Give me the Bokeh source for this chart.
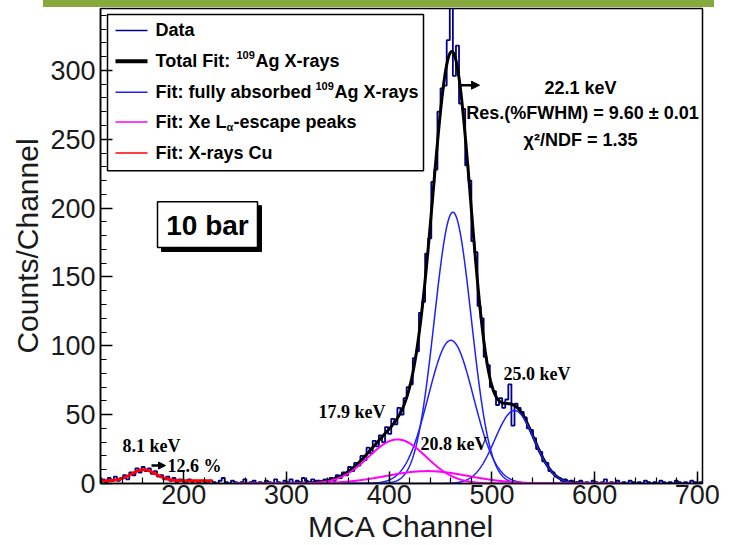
import numpy as np
from bokeh.plotting import figure
from bokeh.models import SingleIntervalTicker, Arrow, NormalHead, Div, Range1d
from bokeh.layouts import column
from bokeh.core.properties import value
from bokeh.embed import file_html
from bokeh.resources import INLINE

# ---------------- data ----------------
channel_start = 120
bin_width = 3
counts = [
    # 120 - 230 (Cu region)
    3, 1, 4, 2, 5, 2, 4, 6, 3, 8, 6, 11, 8, 12, 9, 11, 7, 9, 5, 6,
    3, 5, 2, 4, 1, 3, 2, 0, 3, 1, 2, 0, 2, 1, 0, 2, 1,
    # 231 - 330
    0, 2, 4, 1, 0, 2, 1, 0, 1, 3, 0, 1, 2, 0, 1, 0, 2, 1, 0, 3,
    1, 0, 2, 1, 3, 0, 2, 1, 4, 2, 1, 3, 2,
    # 330 - 579 (escape + Ag peaks)
    2, 0, 3, 1, 4, 2, 6, 4, 8, 6,
    12, 9, 15, 13, 20, 17, 26, 22, 31, 27,
    35, 30, 41, 36, 47, 43, 55, 50, 62, 70,
    72, 91, 96, 124, 132, 167, 178, 219, 228, 270,
    287, 289, 322, 348, 296, 318, 276, 272, 231, 220,
    176, 168, 129, 120, 92, 86, 70, 67, 57, 62,
    55, 61, 72, 42, 58, 55, 52, 48, 40, 39,
    33, 25, 23, 16, 15, 9, 8, 5, 4, 2,
    3, 1, 2,
    # 579 - 705
    0, 1, 2, 0, 1, 0, 2, 1, 0, 1, 3, 0, 1, 0, 2, 0, 1, 0, 2, 1,
    0, 1, 0, 2, 1, 0, 1, 0, 2, 1, 0, 1, 0, 2, 1, 0, 1, 0, 2, 1,
    0, 1,
]

x_range_ch = [119, 705]
y_range_counts = [0, 345]

# fitted components (amplitude, mean channel, sigma in channels)
ag_amp = [197, 104, 53]
ag_mean = [462, 460, 522]
ag_sigma = [18, 22, 19]
esc_amp = [32, 9]
esc_mean = [408, 437]
esc_sigma = [28, 40]
cu_amp = [8]
cu_mean = [161]
cu_sigma = [12]
cu_bkg = [2]
fit_range = [250, 625]
cu_range = [120, 228]

legend_labels = ["Data", "Total Fit:", "Fit: fully absorbed", "Fit: Xe L", "Fit: X-rays Cu"]
peak_labels = ["8.1 keV", "17.9 keV", "20.8 keV", "25.0 keV"]
res_texts = ["22.1 keV", "Res.(%FWHM) = 9.60 \u00b1 0.01", "\u03c7\u00b2/NDF = 1.35"]

# ---------------- helpers ----------------
FL, FR, FT, FB = 100, 702, 8, 485   # frame in page pixels (reference)


def dx(px):
    return x_range_ch[0] + (px - FL) * (x_range_ch[1] - x_range_ch[0]) / (FR - FL)


def dy(py):
    return y_range_counts[0] + (FB - py) * (y_range_counts[1] - y_range_counts[0]) / (FB - FT)


def gauss(x, a, m, s):
    return a * np.exp(-0.5 * ((x - m) / s) ** 2)


p = figure(width=731, height=538,
           x_range=Range1d(*x_range_ch), y_range=Range1d(*y_range_counts),
           output_backend="svg", toolbar_location=None,
           min_border_left=100, min_border_right=29, min_border_top=1, min_border_bottom=60)
p.margin = 0
p.xgrid.visible = False
p.ygrid.visible = False
p.outline_line_color = "black"
p.outline_line_width = 1.5
p.background_fill_color = "white"

# data histogram
edges = channel_start + bin_width * np.arange(len(counts) + 1)
p.step(edges, list(counts) + [counts[-1]], mode="after", line_color="#000088", line_width=1.8)

# fits
xs = np.linspace(fit_range[0], fit_range[1], 900)
ag_curves = [gauss(xs, a, m, s) for a, m, s in zip(ag_amp, ag_mean, ag_sigma)]
esc_curves = [gauss(xs, a, m, s) for a, m, s in zip(esc_amp, esc_mean, esc_sigma)]
total = sum(ag_curves) + sum(esc_curves)
p.line(xs, total, line_color="black", line_width=3)
for c in ag_curves:
    p.line(xs, c, line_color="#1f1fff", line_width=1.5)
for c in esc_curves:
    p.line(xs, c, line_color="#ff00ff", line_width=2)
xc = np.linspace(cu_range[0], cu_range[1], 300)
p.line(xc, cu_bkg[0] + gauss(xc, cu_amp[0], cu_mean[0], cu_sigma[0]), line_color="#ff0000", line_width=3)

# axes
for ax in (p.xaxis, p.yaxis):
    ax.axis_line_color = "black"
    ax.axis_line_width = 1.5
    ax.major_tick_in = 12
    ax.major_tick_out = 0
    ax.minor_tick_in = 6
    ax.minor_tick_out = 0
    ax.major_tick_line_color = "black"
    ax.minor_tick_line_color = "black"
    ax.major_tick_line_width = 1.5
    ax.minor_tick_line_width = 1.2
    ax.major_label_text_font = "Liberation Sans"
    ax.major_label_text_font_size = "27px"
    ax.major_label_text_color = "#1a1a1a"
    ax.axis_label_text_font = "Liberation Sans"
    ax.axis_label_text_font_size = "30px"
    ax.axis_label_text_font_style = "normal"
    ax.axis_label_text_color = "#1a1a1a"
p.xaxis.ticker = SingleIntervalTicker(interval=100, num_minor_ticks=5)
p.yaxis.ticker = SingleIntervalTicker(interval=50, num_minor_ticks=5)
p.xaxis.axis_label = "MCA Channel"
p.yaxis.axis_label = "Counts/Channel"
p.xaxis.major_label_standoff = 1
p.xaxis.axis_label_standoff = 3
p.yaxis.major_label_standoff = 5
p.yaxis.axis_label_standoff = 3


def T(px, py, s, size, font="Liberation Sans", style="bold", align="left"):
    p.text(x=[dx(px)], y=[dy(py)], text=[s], text_font=value(font),
           text_font_size=size, text_font_style=style, text_align=align,
           text_baseline="middle", text_color="black")


# legend box
p.quad(left=[dx(107)], right=[dx(423)], top=[dy(14)], bottom=[dy(171)],
       fill_color="white", line_color="black", line_width=1.5)
rows = [30, 61, 92, 122, 153]
sample_styles = [("#000088", 1.5), ("black", 4), ("#1f1fff", 1.5), ("#ff00ff", 1.5), ("#ff0000", 1.5)]
for ry, (col, lw) in zip(rows, sample_styles):
    p.segment(x0=[dx(115)], y0=[dy(ry)], x1=[dx(147)], y1=[dy(ry)], line_color=col, line_width=lw)
LS = "18px"
T(155, rows[0], legend_labels[0], LS)
T(155, rows[1], legend_labels[1], LS)
T(236, rows[1] - 6, "109", "11px")
T(255, rows[1], "Ag X-rays", LS)
T(155, rows[2], legend_labels[2], LS)
T(315, rows[2] - 6, "109", "11px")
T(334, rows[2], "Ag X-rays", LS)
T(155, rows[3], legend_labels[3], LS)
T(226, rows[3] + 5, "\u03b1", "11px")
T(233, rows[3], "-escape peaks", LS)
T(155, rows[4], legend_labels[4], LS)

# "10 bar" box with shadow
p.quad(left=[dx(161)], right=[dx(261)], top=[dy(206)], bottom=[dy(252)],
       fill_color="black", line_color="black")
p.quad(left=[dx(157)], right=[dx(257)], top=[dy(202)], bottom=[dy(248)],
       fill_color="white", line_color="black", line_width=1.5)
T(207, 226, "10 bar", "28px", align="center")

# resolution annotations
T(580, 88, res_texts[0], "18px", align="center")
T(582, 113, res_texts[1], "18px", align="center")
T(580, 140, res_texts[2], "18px", align="center")
p.add_layout(Arrow(end=NormalHead(size=8, fill_color="black", line_color="black"),
                   x_start=dx(460), y_start=dy(85), x_end=dx(479), y_end=dy(85),
                   line_width=2.5, line_color="black"))

# peak labels
SERIF = "Liberation Serif"
T(122, 447, peak_labels[0], "18px", font=SERIF)
T(318, 413, peak_labels[1], "18px", font=SERIF)
T(420, 445, peak_labels[2], "18px", font=SERIF)
T(503, 375, peak_labels[3], "18px", font=SERIF)
T(167, 467, "12.6 %", "18px", font=SERIF)
p.add_layout(Arrow(end=NormalHead(size=7, fill_color="black", line_color="black"),
                   x_start=dx(151), y_start=dy(467), x_end=dx(165), y_end=dy(467),
                   line_width=2.5, line_color="black"))

bar = Div(text="", width=714, height=7, margin=0,
          styles={"background": "linear-gradient(to right, #ffffff 43px, #87a83a 43px)"})
layout = column(bar, p, spacing=0, margin=0)

open("out.html", "w").write(file_html(layout, INLINE))
